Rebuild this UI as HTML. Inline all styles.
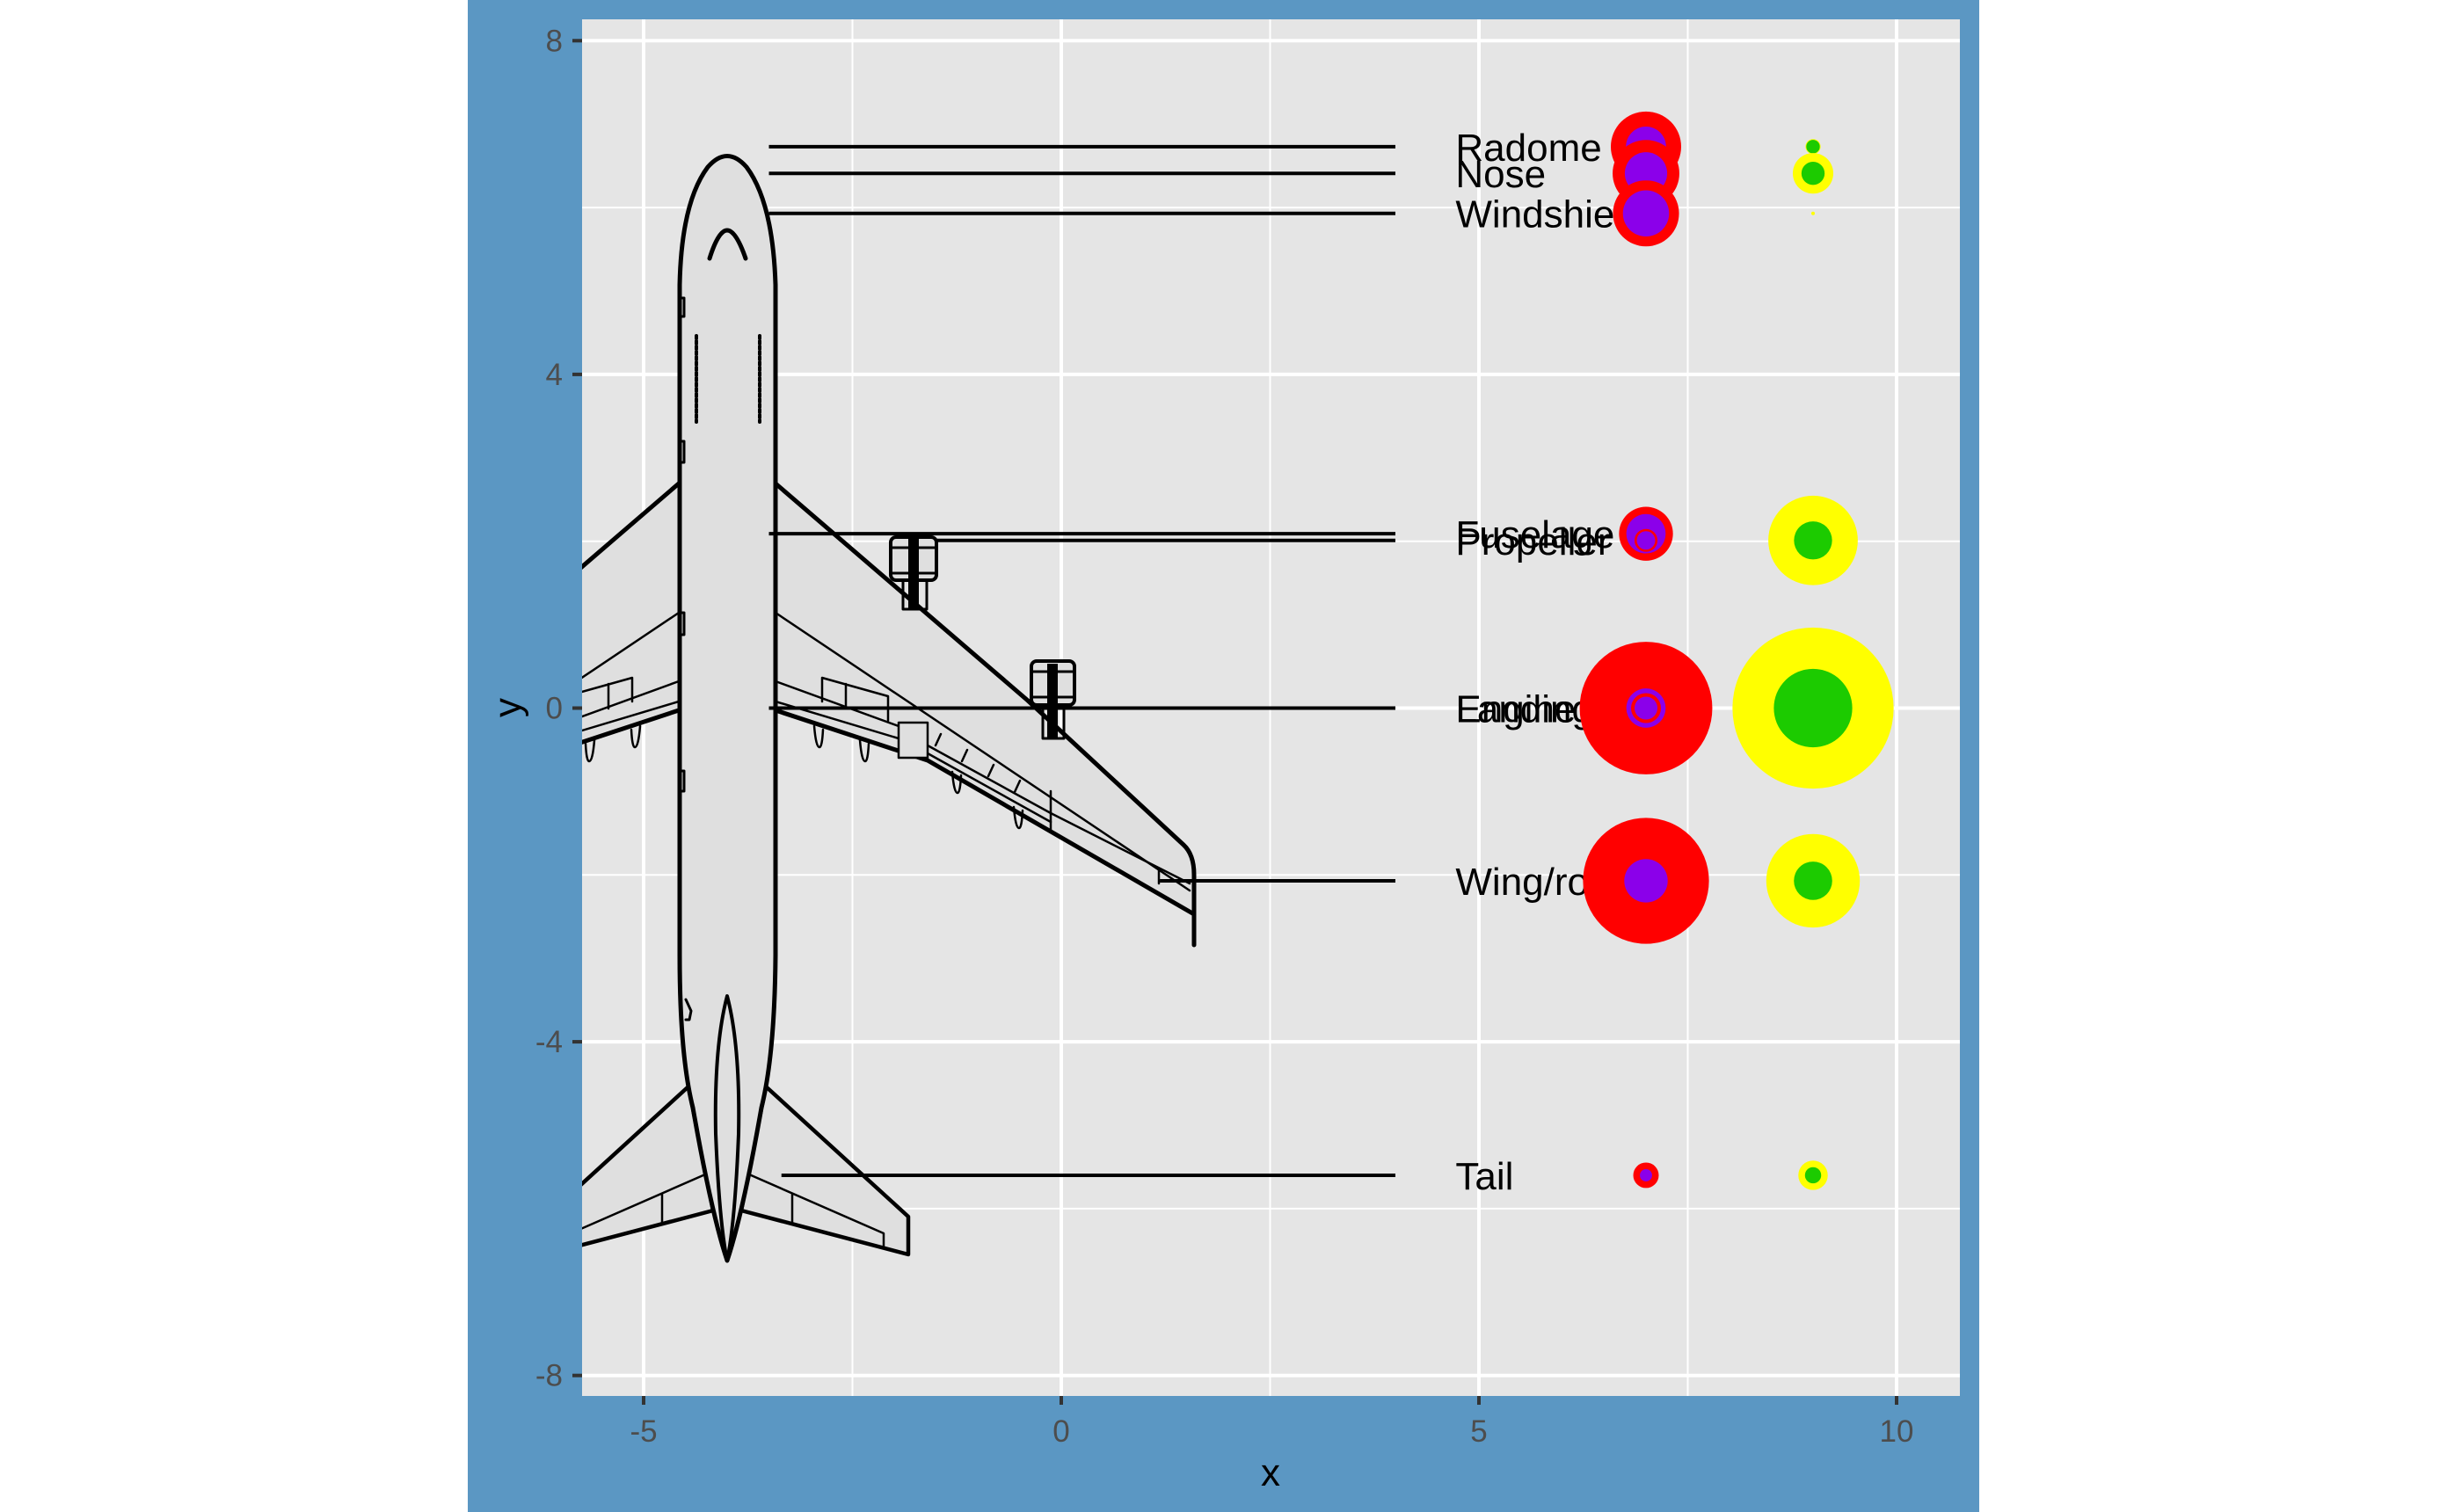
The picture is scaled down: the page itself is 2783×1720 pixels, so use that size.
<!DOCTYPE html>
<html><head><meta charset="utf-8"><style>
html,body{margin:0;padding:0;background:#fff;}
svg{display:block;}
text{font-family:"Liberation Sans",Arial,sans-serif;}
</style></head><body>
<svg id="chart" width="2783" height="1720" viewBox="0 0 2783 1720" xmlns="http://www.w3.org/2000/svg">
<defs><clipPath id="pclip"><rect x="662" y="22" width="1567" height="1566"/></clipPath></defs>
<rect x="532" y="0" width="1719" height="1720" fill="#5b97c3"/>
<rect x="662" y="22" width="1567" height="1566" fill="#e5e5e5"/>
<g id="grid"></g>
<g clip-path="url(#pclip)" stroke="#000" fill="none" stroke-linejoin="round" stroke-linecap="round">
  <g id="wingR">
    <path d="M882,550 L1169,797 L1346,961 Q1358,972 1358,995 L1358,1040 L1055,865 L882,808 Z" fill="#dfdfdf" stroke="none"/>
    <path d="M882,550 L1169,797 L1346,961 Q1358,972 1358,995 L1358,1075" stroke-width="5"/>
    <path d="M882,808 L1055,865 L1358,1040" stroke-width="5"/>
    <path d="M882,697 L1353,1013" stroke-width="2.5"/>
    <path d="M882,775 L1022,826 M882,798 L1022,840 M1055,848 L1195,925 L1353,1005 M1055,857 L1195,935" stroke-width="2.5"/>
    <path d="M935,771 L935,798 M935,771 L1010,792 L1010,820 M962,778 L962,806" stroke-width="2.5"/>
    <rect x="1022" y="822" width="33" height="40" fill="#dfdfdf" stroke-width="2.5"/>
    <path d="M1070,835 L1064,848 M1100,853 L1094,866 M1130,870 L1124,883 M1160,888 L1154,901 M1195,900 L1195,945 M1318,990 L1318,1005" stroke-width="2.5"/>
    <path d="M926,826 Q928,850 932,850 Q935,850 936,830 M978,842 Q980,866 984,866 Q987,866 988,846 M1083,878 Q1085,902 1089,902 Q1092,902 1093,882 M1153,918 Q1155,942 1159,942 Q1162,942 1163,922" stroke-width="2.5"/>
    <g>
      <rect x="1027" y="660" width="27" height="33" stroke-width="3"/>
      <rect x="1013" y="611" width="52" height="49" rx="6" fill="#dfdfdf" stroke-width="4"/>
      <path d="M1013,623 L1065,623 M1013,652 L1065,652" stroke-width="3"/>
      <rect x="1033" y="613" width="12" height="80" fill="#000" stroke="none"/>
    </g>
    <g>
      <rect x="1186" y="802" width="24" height="38" stroke-width="3"/>
      <rect x="1173" y="752" width="49" height="50" rx="6" fill="#dfdfdf" stroke-width="4"/>
      <path d="M1173,764 L1222,764 M1173,793 L1222,793" stroke-width="3"/>
      <rect x="1191" y="755" width="12" height="85" fill="#000" stroke="none"/>
    </g>
    <path d="M871,1236 L1033,1384 L1033,1427 L843,1377 Z" fill="#dfdfdf" stroke-width="4.5"/>
    <path d="M852,1336 L1005,1403 L1005,1420 M901,1358 L901,1390" stroke-width="2.5"/>
  </g>
  <use href="#wingR" transform="translate(1654,0) scale(-1,1)"/>
  <path d="M773,324 Q775,230 805,190 Q827,165 849,190 Q879,230 882,324 L882,1087 Q881,1200 866,1260 Q845,1380 827,1434 Q809,1380 788,1260 Q773,1200 773,1087 Z" fill="#dfdfdf" stroke-width="5"/>
  <path d="M807,294 Q817,262 827,262 Q837,262 848,294" stroke-width="5"/>
  <path d="M792,382 L792,480 M864,382 L864,480" stroke-width="4" stroke-dasharray="3,3"/>
  <path d="M827,1133 Q842,1190 840,1290 Q836,1390 827,1434 Q818,1390 814,1290 Q812,1190 827,1133 Z" stroke-width="4"/>
  <path d="M773,339 L778,339 L778,360 L773,360 M773,502 L778,502 L778,526 L773,526 M773,697 L778,697 L778,722 L773,722 M773,877 L778,877 L778,900 L773,900 M780,1137 L786,1150 L784,1160 L780,1160" stroke-width="3"/>
</g>
<g id="leaders"></g>
<g id="labels"></g>
<g id="points"></g>
<g id="axes"></g>
</svg>
<script>
const parts = ["Radome","Nose","Windshield","Fuselage","Propeller","Landing gear","Engine","Wing/rotor","Tail"];
const partY = [6.73,6.41,5.93,2.09,2.01,0,0,-2.07,-5.6];
const leaderStart = [-3.5,-3.5,-3.5,-3.5,-1.5,-3.5,-3.18,1.18,-3.35];
const redVals = [16,14.4,14.1,9.4,1.7,56.9,2.9,51.3,2.1];
const purpleVals = [5.2,5.8,6.9,5.0,1.1,5.0,1.7,6.1,0.48];
const yellowVals = [0.74,5.3,0.04,9,25.9,10,84,28.3,2.8];
const greenVals = [0.59,1.74,0,1,4.7,2,19.9,4.75,0.85];
const xTicks = [-5,0,5,10];
const yTicks = [-8,-4,0,4,8];
const xMinor = [-2.5,2.5,7.5];
const yMinor = [-6,-2,2,6];

const NS="http://www.w3.org/2000/svg";
const X=v=>1207+95*v, Y=v=>805.5-94.9*v, R=v=>10*Math.sqrt(v);
function mk(tag,attrs,parent){const e=document.createElementNS(NS,tag);for(const k in attrs)e.setAttribute(k,attrs[k]);parent.appendChild(e);return e;}
const grid=document.getElementById('grid');
xMinor.forEach(v=>{const l=mk('line',{x1:X(v),x2:X(v),y1:22,y2:1588,stroke:'#fff','stroke-width':2},grid);

});
yMinor.forEach(v=>{const l=mk('line',{x1:662,x2:2229,y1:Y(v),y2:Y(v),stroke:'#fff','stroke-width':2},grid);

});
xTicks.forEach(v=>{const l=mk('line',{x1:X(v),x2:X(v),y1:22,y2:1588,stroke:'#fff','stroke-width':4},grid);

});
yTicks.forEach(v=>{const l=mk('line',{x1:662,x2:2229,y1:Y(v),y2:Y(v),stroke:'#fff','stroke-width':4},grid);

});

const leaders=document.getElementById('leaders');
parts.forEach((p,i)=>{const l=mk('line',{x1:X(leaderStart[i]),x2:X(4),y1:Y(partY[i]),y2:Y(partY[i]),stroke:'#000','stroke-width':4},leaders);

});

const labels=document.getElementById('labels');
parts.forEach((p,i)=>{const t=mk('text',{x:X(4.72),y:Y(partY[i])+16,'font-size':44,fill:'#000'},labels);t.textContent=p;

});

const pts=document.getElementById('points');
parts.forEach((p,i)=>{
  const a=mk('circle',{cx:X(7),cy:Y(partY[i]),r:R(redVals[i]),fill:'#ff0000'},pts);
  
  
  const b=mk('circle',{cx:X(7),cy:Y(partY[i]),r:R(purpleVals[i]),fill:'#8b00ea'},pts);
  
  
  const c=mk('circle',{cx:X(9),cy:Y(partY[i]),r:R(yellowVals[i]),fill:'#ffff00'},pts);
  
  
  const d=mk('circle',{cx:X(9),cy:Y(partY[i]),r:R(greenVals[i]),fill:'#1ccb00'},pts);
  
  
});

const axes=document.getElementById('axes');
xTicks.forEach(v=>{
  const l=mk('line',{x1:X(v),x2:X(v),y1:1588,y2:1598,stroke:'#333','stroke-width':4},axes);
  
  
  const t=mk('text',{x:X(v),y:1640,'font-size':35,fill:'#4d4d4d','text-anchor':'middle'},axes);t.textContent=v;
  
  
});
yTicks.forEach(v=>{
  const l=mk('line',{x1:651,x2:662,y1:Y(v),y2:Y(v),stroke:'#333','stroke-width':4},axes);
  
  
  const t=mk('text',{x:640,y:Y(v)+12,'font-size':35,fill:'#4d4d4d','text-anchor':'end'},axes);t.textContent=v;
  
  
});
const xt=mk('text',{x:1445,y:1690,'font-size':44,fill:'#000','text-anchor':'middle'},axes);xt.textContent='x';


const yt=mk('text',{x:0,y:0,'font-size':44,fill:'#000','text-anchor':'middle',transform:'translate(592,805) rotate(-90)'},axes);yt.textContent='y';


</script>
</body></html>
